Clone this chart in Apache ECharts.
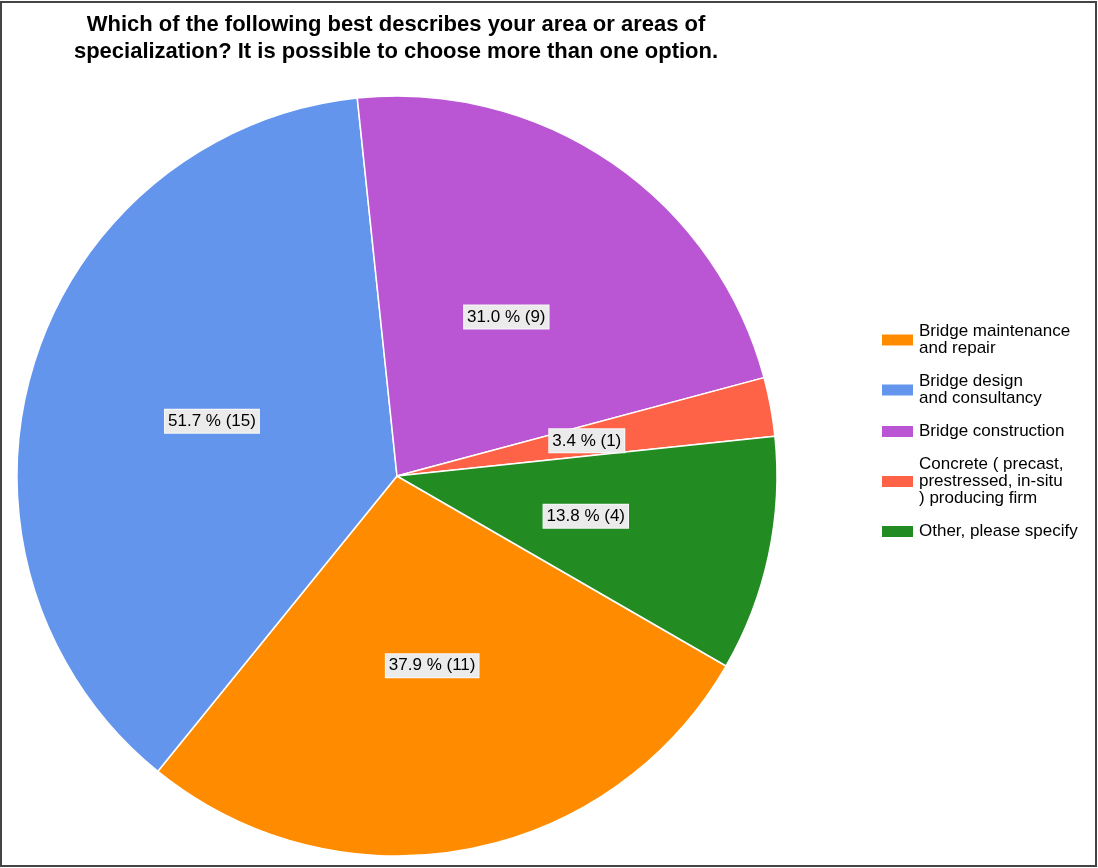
<!DOCTYPE html>
<html>
<head>
<meta charset="utf-8">
<script src="https://cdn.jsdelivr.net/npm/echarts@6/dist/echarts.min.js"></script>
<style>
html,body{margin:0;padding:0;background:#fff;}
#chart{width:1098px;height:868px;}
</style>
</head>
<body>
<div id="chart"></div>
<script>
const categories = ["Bridge maintenance and repair", "Bridge design and consultancy", "Bridge construction", "Concrete ( precast, prestressed, in-situ ) producing firm", "Other, please specify"];
const legendLabels = ["Bridge maintenance\nand repair", "Bridge design\nand consultancy", "Bridge construction", "Concrete ( precast,\nprestressed, in-situ\n) producing firm", "Other, please specify"];
const counts = [11, 15, 9, 1, 4];
const respondents = 29;
const colors = ["#FF8C00", "#6495ED", "#BA55D3", "#FF6347", "#228B22"];
const titleText = "Which of the following best describes your area or areas of\nspecialization? It is possible to choose more than one option.";

const chart = echarts.init(document.getElementById('chart'));
const legendMap = {};
categories.forEach((c, i) => legendMap[c] = legendLabels[i]);

chart.setOption({
  animation: false,
  color: colors,
  graphic: [
    {type: 'rect', shape: {x: 1, y: 2, width: 1095, height: 864}, style: {fill: 'none', stroke: '#444', lineWidth: 2}, z: 100},
    {type: 'text', x: 396, y: 11, style: {text: titleText, textAlign: 'center', font: 'bold 22px "Liberation Sans", Arial, sans-serif', lineHeight: 27, fill: '#000'}}
  ],
  legend: {
    orient: 'vertical',
    left: 875,
    top: 318,
    itemWidth: 33,
    itemHeight: 13,
    itemGap: 16,
    icon: 'rect',
    formatter: name => legendMap[name],
    textStyle: {fontSize: 17, fontFamily: '"Liberation Sans", Arial, sans-serif', color: '#000', lineHeight: 17}
  },
  series: [{
    type: 'pie',
    center: [397, 476],
    radius: 380,
    startAngle: -30,
    clockwise: true,
    avoidLabelOverlap: false,
    itemStyle: {borderColor: '#fff', borderWidth: 1.5},
    label: {
      position: 'inside',
      formatter: p => (p.value / respondents * 100).toFixed(1) + ' % (' + p.value + ')',
      fontSize: 17,
      fontFamily: '"Liberation Sans", Arial, sans-serif',
      color: '#000',
      backgroundColor: '#ebebeb',
      borderColor: '#f8f8f8',
      borderWidth: 1,
      padding: [3, 3]
    },
    labelLine: {show: false},
    emphasis: {disabled: true},
    data: categories.map((c, i) => ({name: c, value: counts[i]}))
  }]
});
</script>
</body>
</html>
